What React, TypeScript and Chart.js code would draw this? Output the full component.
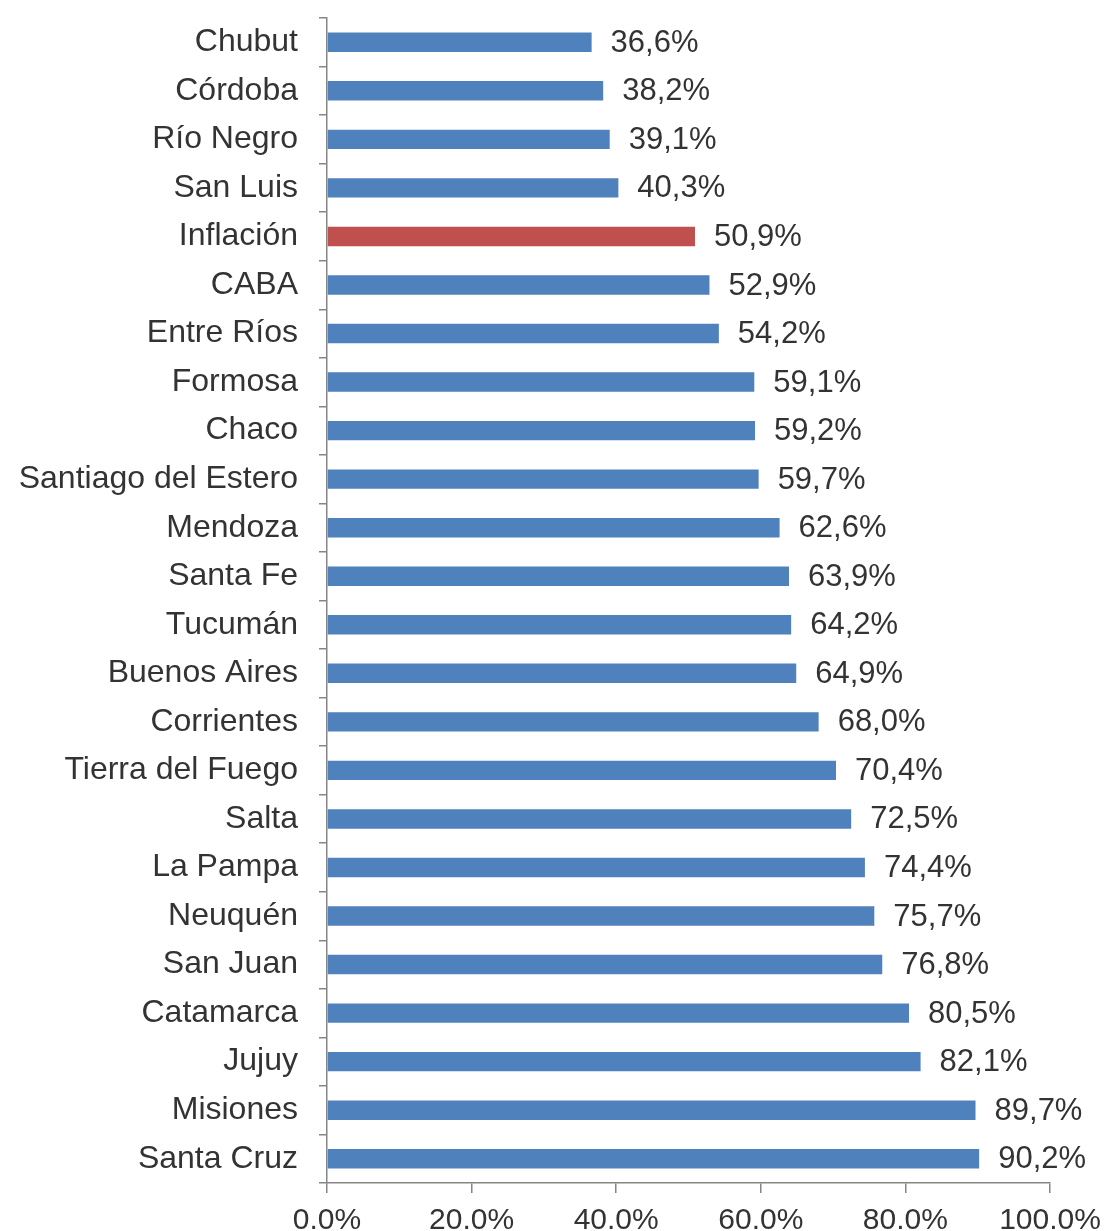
import React, { useEffect, useRef } from "react";
import { Chart, registerables } from "chart.js";

Chart.register(...registerables);

const categories = [
  "Chubut", "Córdoba", "Río Negro", "San Luis", "Inflación", "CABA", "Entre Ríos",
  "Formosa", "Chaco", "Santiago del Estero", "Mendoza", "Santa Fe", "Tucumán",
  "Buenos Aires", "Corrientes", "Tierra del Fuego", "Salta", "La Pampa", "Neuquén",
  "San Juan", "Catamarca", "Jujuy", "Misiones", "Santa Cruz",
];
const values = [
  36.6, 38.2, 39.1, 40.3, 50.9, 52.9, 54.2, 59.1, 59.2, 59.7, 62.6, 63.9, 64.2,
  64.9, 68.0, 70.4, 72.5, 74.4, 75.7, 76.8, 80.5, 82.1, 89.7, 90.2,
];
const highlighted = "Inflación";
const xTicks = [0, 20, 40, 60, 80, 100];

const BLUE = "#4F81BD";
const RED = "#C0504D";
const TEXT = "#333333";
const AXIS = "#868686";
const FONT = "'Liberation Sans', Arial, sans-serif";

const valueLabels = {
  id: "valueLabels",
  afterDatasetsDraw(chart: any) {
    const ctx = chart.ctx;
    const meta = chart.getDatasetMeta(0);
    ctx.save();
    ctx.font = `31px ${FONT}`;
    ctx.fillStyle = TEXT;
    ctx.textAlign = "left";
    ctx.textBaseline = "middle";
    meta.data.forEach((bar: any, i: number) => {
      const txt = values[i].toFixed(1).replace(".", ",") + "%";
      ctx.fillText(txt, bar.x + 19, bar.y + 1);
    });
    ctx.restore();
  },
};

export default function App() {
  const ref = useRef<HTMLCanvasElement | null>(null);
  useEffect(() => {
    document.body.style.margin = "0";
    const chart = new Chart(ref.current!, {
      type: "bar",
      data: {
        labels: categories,
        datasets: [
          {
            data: values,
            backgroundColor: categories.map((c) => (c === highlighted ? RED : BLUE)),
            borderWidth: 0,
            categoryPercentage: 1,
            barPercentage: 0.4,
          },
        ],
      },
      options: {
        indexAxis: "y",
        animation: false,
        responsive: false,
        maintainAspectRatio: false,
        layout: { padding: { top: 18, right: 56, left: 0, bottom: 0 } },
        plugins: { legend: { display: false }, tooltip: { enabled: false } },
        scales: {
          x: {
            min: 0,
            max: 100,
            afterFit: (s: any) => {
              s.height = 48;
              s.paddingLeft = 0;
              s.paddingRight = 0;
            },
            afterBuildTicks: (s: any) => { s.ticks = xTicks.map((v) => ({ value: v })); },
            ticks: {
              callback: (v: any) => Number(v).toFixed(1) + "%",
              font: { family: FONT, size: 30 },
              color: TEXT,
              padding: 10,
              maxRotation: 0,
              autoSkip: false,
            },
            grid: { drawOnChartArea: false, tickLength: 10, color: AXIS, lineWidth: 1.5 },
            border: { display: true, color: AXIS, width: 1.5 },
          },
          y: {
            afterFit: (s: any) => {
              s.width = 327;
              s.paddingTop = 0;
              s.paddingBottom = 0;
            },
            ticks: {
              font: { family: FONT, size: 32 },
              color: TEXT,
              padding: 21,
              autoSkip: false,
            },
            grid: { drawOnChartArea: false, tickLength: 8, color: AXIS, offset: true, lineWidth: 1.5 },
            border: { display: true, color: AXIS, width: 1.5 },
          },
        },
      },
      plugins: [valueLabels],
    });
    return () => chart.destroy();
  }, []);
  return (
    <div style={{ width: 1106, height: 1231, background: "#fff" }}>
      <canvas ref={ref} width={1106} height={1231} style={{ display: "block" }} />
    </div>
  );
}
